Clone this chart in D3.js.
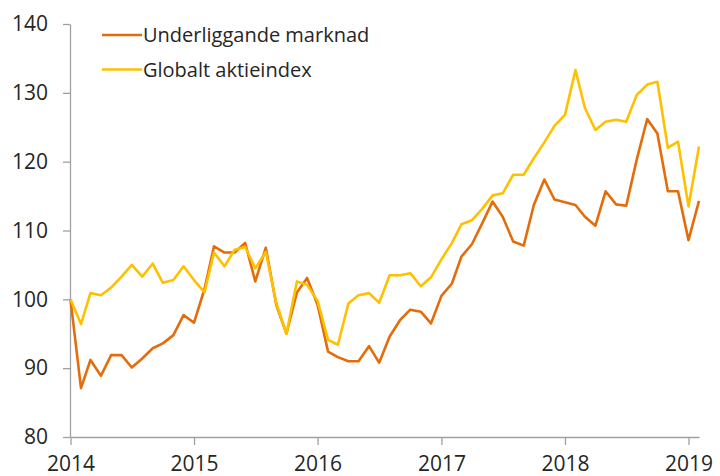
<!DOCTYPE html>
<html>
<head>
<meta charset="utf-8">
<script src="https://cdn.jsdelivr.net/npm/d3@7"></script>
<style>
  body { margin: 0; background: #fff; }
  svg text { font-family: "Open Sans", sans-serif; fill: #262626; }
  .axis path, .axis line { stroke: #a0a0a0; stroke-width: 1.3; }
  .axis text { font-size: 21px; }
  .legend { font-size: 20px; }
  .marknad { fill: none; stroke: #e46c0a; stroke-width: 2.6; stroke-linejoin: round; }
  .global { fill: none; stroke: #ffc000; stroke-width: 2.6; stroke-linejoin: round; }
</style>
</head>
<body>
<svg id="chart" width="720" height="476"></svg>
<script>
// monthly values, Jan 2014 - Feb 2019 (index 100 = Jan 2014)
const startYear = 2014;
const underliggande = [
  100, 87.1, 91.2, 88.9, 91.9, 91.9, 90.1, 91.4, 92.9, 93.6, 94.8, 97.7,
  96.6, 101.5, 107.7, 106.8, 106.8, 108.2, 102.6, 107.5, 99.2, 95.0, 101.0, 103.1,
  99.2, 92.4, 91.6, 91.0, 91.0, 93.2, 90.8, 94.6, 97.0, 98.5, 98.2, 96.5,
  100.5, 102.3, 106.2, 108.0, 111.0, 114.2, 112.0, 108.4, 107.8, 113.7, 117.4, 114.5,
  114.1, 113.7, 112.0, 110.7, 115.7, 113.8, 113.6, 120.3, 126.2, 124.1, 115.7, 115.7,
  108.6, 114.3
];
const globalt = [
  100, 96.4, 100.9, 100.6, 101.7, 103.3, 105.0, 103.3, 105.2, 102.4, 102.8, 104.8,
  102.8, 101.0, 106.8, 104.8, 107.2, 107.6, 104.5, 106.9, 99.5, 95.0, 102.6, 102.1,
  99.8, 94.1, 93.4, 99.4, 100.6, 100.9, 99.5, 103.5, 103.5, 103.8, 101.9, 103.2,
  105.8, 108.2, 110.9, 111.5, 113.1, 115.1, 115.4, 118.1, 118.1, 120.5, 122.8, 125.2,
  126.8, 133.3, 127.8, 124.6, 125.8, 126.1, 125.8, 129.7, 131.2, 131.6, 122.0, 122.9,
  113.5, 122.2
];
const seriesNames = ["Underliggande marknad", "Globalt aktieindex"];
const yTicks = [80, 90, 100, 110, 120, 130, 140];
const xTickYears = [2014, 2015, 2016, 2017, 2018, 2019];

const monthDate = i => new Date(startYear, i, 1);

let g = d3.select("#chart");

let xScale = d3.scaleTime()
    .domain([new Date(2014, 0, 1), new Date(2019, 1, 1)])
    .range([70.5, 699]);
let yScale = d3.scaleLinear().domain([80, 140]).range([437, 24]);

let xAxis = d3.axisBottom(xScale)
    .tickValues(xTickYears.map(y => new Date(y, 0, 1)))
    .tickFormat(d3.timeFormat("%Y"))
    .tickSizeInner(8).tickSizeOuter(0).tickPadding(11);
g.append("g").attr("class", "axis").attr("transform", "translate(0,437)").call(xAxis);

let yAxis = d3.axisLeft(yScale)
    .tickValues(yTicks)
    .tickSizeInner(7).tickSizeOuter(0).tickPadding(15);
g.append("g").attr("class", "axis").attr("transform", "translate(70,0)").call(yAxis);

let lineGenerator = d3.line()
    .x((d, i) => xScale(monthDate(i)))
    .y(d => yScale(d));

g.append("path").attr("class", "marknad").attr("d", lineGenerator(underliggande));
g.append("path").attr("class", "global").attr("d", lineGenerator(globalt));

// legend
g.append("line").attr("x1", 102).attr("x2", 142).attr("y1", 35).attr("y2", 35).attr("class", "marknad");
g.append("text").attr("class", "legend").attr("x", 143).attr("y", 42).text(seriesNames[0]);
g.append("line").attr("x1", 102).attr("x2", 142).attr("y1", 69.5).attr("y2", 69.5).attr("class", "global");
g.append("text").attr("class", "legend").attr("x", 143).attr("y", 76.5).text(seriesNames[1]);
</script>
</body>
</html>
